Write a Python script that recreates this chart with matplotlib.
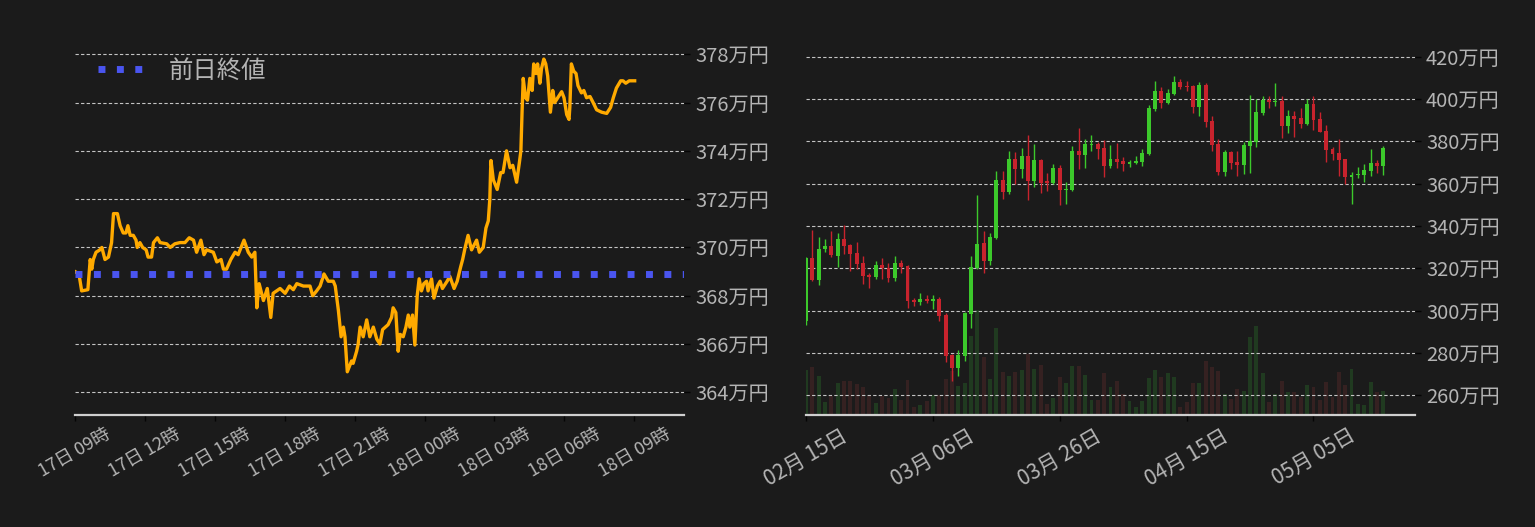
import matplotlib
matplotlib.use('Agg')
import matplotlib.pyplot as plt
import numpy as np
import pandas as pd

plt.rcParams['font.family'] = ['Noto Sans CJK JP', 'DejaVu Sans']

BG = '#1b1b1b'
TXT = '#b4b4b4'
GRID = '#c4c4c4'
SPINE = '#cfcfcf'
UP = '#3cc92b'
DOWN = '#c8232d'
UP_VOL = '#203a20'
DOWN_VOL = '#352121'
LINE = '#ffaa00'
PREV = '#4a55f0'

# ---------------- intraday (left) ----------------
intraday_start = '2024-05-17 09:00'
intraday_minutes = [0, 10, 17, 33, 39, 43, 47, 54, 64, 69, 77, 86, 90, 94, 99, 109, 116, 124, 131, 136,
                    142, 150, 157, 160, 167, 174, 183, 188, 197, 202, 212, 219, 236, 245, 257, 270, 283, 294, 305, 313,
                    324, 332, 339, 356, 365, 376, 382, 390, 401, 412, 420, 435, 446, 455, 463, 468, 474, 485, 495, 504,
                    510, 528, 541, 552, 562, 571, 588, 605, 612, 622, 631, 641, 652, 665, 670, 678, 685, 691, 695, 701,
                    712, 716, 725, 729, 734, 742, 751, 759, 768, 777, 785, 792, 806, 815, 819, 826, 832, 837, 845, 852,
                    858, 862, 869, 875, 881, 886, 892, 898, 905, 909, 918, 924, 933, 940, 946, 958, 965, 976, 984, 993,
                    998, 1004, 1012, 1021, 1034, 1041, 1051, 1058, 1064, 1068, 1070, 1071, 1077, 1087, 1096, 1102, 1111, 1120, 1127, 1137,
                    1144, 1148, 1151, 1154, 1160, 1165, 1171, 1177, 1181, 1187, 1191, 1197, 1201, 1207, 1212, 1217, 1224, 1230, 1235, 1247,
                    1253, 1259, 1266, 1272, 1274, 1278, 1284, 1290, 1295, 1304, 1310, 1317, 1326, 1334, 1343, 1356, 1369, 1379, 1386, 1394,
                    1405, 1411, 1418, 1427, 1441]
intraday_price = [369.0, 368.9, 368.2, 368.25, 369.5, 369.1, 369.5, 369.8, 369.9, 370.0, 369.5, 369.6, 369.9, 370.2, 371.4, 371.4, 370.9, 370.6, 370.6, 370.9,
                  370.5, 370.5, 370.3, 370.0, 370.2, 370.0, 369.9, 369.6, 369.6, 370.2, 370.4, 370.2, 370.15, 370.0, 370.15, 370.2, 370.2, 370.4, 370.3, 369.8,
                  370.3, 369.7, 369.9, 369.8, 369.4, 369.5, 369.1, 369.1, 369.5, 369.8, 369.7, 370.3, 369.8, 369.6, 369.8, 367.5, 368.5, 367.8, 368.3, 367.1,
                  368.1, 368.3, 368.1, 368.4, 368.25, 368.5, 368.4, 368.4, 368.0, 368.2, 368.4, 368.9, 368.6, 368.6, 368.4, 367.4, 366.3, 366.7, 366.3, 364.85,
                  365.3, 365.2, 365.7, 366.0, 366.7, 366.3, 367.0, 366.3, 366.7, 366.2, 366.0, 366.6, 366.8, 367.1, 367.5, 367.3, 365.7, 366.4, 366.3, 366.7,
                  367.2, 366.7, 367.2, 365.96, 368.0, 368.7, 368.2, 368.5, 368.6, 368.2, 368.7, 367.9, 368.4, 368.6, 368.3, 368.6, 368.8, 368.3, 368.6, 369.2,
                  369.5, 369.96, 370.5, 369.9, 370.3, 369.8, 370.0, 370.8, 371.1, 372.0, 373.2, 373.6, 372.8, 372.4, 373.1, 373.1, 374.0, 373.3, 373.4, 372.7,
                  373.5, 374.0, 375.6, 377.0, 376.2, 376.1, 377.0, 376.5, 377.6, 377.2, 377.6, 376.8, 377.4, 377.8, 377.6, 377.1, 375.6, 376.5, 376.0, 376.3,
                  376.45, 376.2, 375.5, 375.3, 375.8, 377.6, 377.3, 377.2, 376.7, 376.4, 376.5, 376.2, 376.25, 376.0, 375.7, 375.6, 375.55, 375.8, 376.2, 376.6,
                  376.9, 376.9, 376.8, 376.9, 376.9]
prev_close = 368.9
prev_close_label = '前日終値'
intraday_tick_labels = ['17日 09時', '17日 12時', '17日 15時', '17日 18時', '17日 21時',
                        '18日 00時', '18日 03時', '18日 06時', '18日 09時']
intraday_yticks = [364, 366, 368, 370, 372, 374, 376, 378]

# ---------------- daily (right) ----------------
daily_start = '2024-02-15'
daily_open = [295.3, 324.8, 314.5, 329.2, 330.6, 326.0, 333.9, 331.1, 327.4, 322.6,
              317.0, 315.8, 321.6, 320.1, 315.5, 322.6, 321.2, 304.9, 304.1, 305.5,
              304.6, 305.5, 298.0, 279.1, 272.9, 278.6, 298.4, 320.2, 332.1, 323.5,
              334.5, 361.8, 356.1, 371.8, 367.0, 373.2, 361.4, 371.3, 361.4, 360.4,
              367.5, 357.1, 357.1, 375.6, 373.7, 378.4, 378.8, 377.0, 368.4, 371.8,
              370.8, 369.4, 369.9, 370.3, 374.1, 395.4, 403.9, 398.2, 402.5, 408.2,
              406.3, 406.3, 396.3, 406.8, 389.7, 378.8, 365.6, 375.1, 370.3, 368.9,
              377.9, 379.8, 393.5, 399.6, 398.8, 399.2, 387.4, 392.1, 391.1, 388.3,
              397.8, 390.7, 385.0, 376.5, 374.6, 371.8, 363.2, 364.2, 364.2, 366.1,
              369.9, 368.4]
daily_high = [325.5, 338.2, 334.9, 333.9, 337.7, 336.8, 340.5, 331.5, 332.4, 325.9,
              317.7, 323.5, 324.9, 322.6, 325.9, 324.0, 321.5, 305.9, 308.5, 307.4,
              307.4, 306.6, 298.8, 279.3, 281.4, 299.2, 325.9, 354.8, 337.7, 336.8,
              366.1, 366.1, 375.6, 375.1, 377.0, 383.1, 378.8, 371.8, 365.1, 369.4,
              368.9, 360.9, 377.9, 386.4, 381.2, 383.1, 379.8, 380.8, 378.4, 379.4,
              372.7, 371.3, 373.2, 376.5, 397.3, 408.6, 405.8, 404.9, 411.0, 409.6,
              408.6, 406.5, 408.2, 407.7, 392.1, 381.2, 376.0, 375.3, 375.6, 379.8,
              402.0, 400.1, 401.5, 401.5, 407.7, 401.5, 394.9, 394.4, 395.9, 400.1,
              401.5, 394.0, 387.9, 377.4, 381.2, 371.9, 365.6, 368.0, 369.4, 376.5,
              371.3, 377.9]
daily_low = [293.4, 313.8, 312.2, 327.8, 325.4, 320.8, 327.0, 318.5, 319.6, 312.6,
             310.7, 314.9, 315.0, 313.6, 314.1, 317.8, 301.3, 302.4, 302.7, 303.5,
             300.7, 295.1, 275.7, 266.8, 269.1, 276.2, 291.8, 319.5, 317.8, 321.6,
             333.9, 352.8, 355.2, 359.9, 362.7, 352.4, 358.5, 355.7, 356.6, 360.0,
             350.0, 350.5, 356.8, 367.0, 367.5, 375.6, 371.8, 363.2, 367.5, 367.5,
             366.1, 368.1, 369.4, 368.4, 373.8, 394.4, 395.9, 397.8, 402.0, 404.9,
             403.9, 393.5, 392.1, 386.9, 375.6, 364.2, 363.7, 367.0, 363.7, 364.6,
             365.1, 377.5, 392.6, 395.9, 396.8, 381.7, 384.0, 382.2, 386.4, 388.0,
             385.5, 384.3, 370.3, 371.3, 363.7, 359.9, 350.5, 362.8, 360.9, 363.7,
             365.1, 364.2]
daily_close = [324.8, 314.5, 329.2, 330.6, 326.4, 333.9, 330.7, 326.8, 322.1, 316.4,
               316.1, 321.6, 320.1, 315.5, 322.6, 320.7, 304.4, 304.1, 305.5, 304.6,
               305.5, 297.5, 278.6, 272.9, 279.1, 298.9, 320.7, 331.6, 323.5, 334.9,
               361.8, 356.1, 371.8, 367.0, 373.2, 361.4, 371.3, 360.4, 360.4, 367.5,
               357.1, 357.6, 375.6, 373.7, 378.8, 378.8, 376.5, 368.4, 371.8, 370.3,
               369.4, 370.3, 370.8, 374.6, 395.9, 403.9, 398.2, 403.0, 408.2, 405.8,
               405.9, 396.3, 406.8, 389.3, 378.4, 365.6, 375.1, 369.9, 368.9, 378.4,
               380.3, 394.0, 399.6, 398.7, 399.2, 387.4, 392.1, 390.7, 388.3, 397.8,
               390.2, 384.5, 376.0, 374.1, 371.3, 363.2, 364.2, 364.6, 366.6, 369.9,
               368.4, 377.0]
daily_volume = [45, 48, 39, 13, 19, 32, 34, 34, 31, 28,
                19, 12, 19, 17, 26, 15, 35, 8, 10, 14,
                20, 20, 36, 44, 29, 32, 79, 105, 58, 36,
                87, 43, 39, 43, 45, 61, 46, 50, 11, 17,
                38, 32, 49, 49, 40, 15, 15, 42, 28, 34,
                21, 14, 8, 14, 37, 45, 38, 42, 38, 8,
                13, 32, 32, 54, 48, 44, 21, 16, 26, 24,
                78, 89, 42, 13, 21, 34, 23, 23, 18, 30,
                28, 15, 33, 18, 43, 30, 46, 11, 10, 33,
                23, 24]
daily_tick_labels = ['02月 15日', '03月 06日', '03月 26日', '04月 15日', '05月 05日']
daily_yticks = [260, 280, 300, 320, 340, 360, 380, 400, 420]


def style_axes(ax):
    ax.set_facecolor(BG)
    for s in ['left', 'right', 'top']:
        ax.spines[s].set_visible(False)
    ax.spines['bottom'].set_color(SPINE)
    ax.spines['bottom'].set_linewidth(1.6)
    ax.yaxis.tick_right()
    ax.tick_params(axis='both', colors='#050505', labelcolor=TXT, length=4, width=1)
    ax.tick_params(axis='y', labelsize=14.5, pad=4)
    ax.grid(axis='y', color=GRID, linestyle=(0, (3, 2)), linewidth=0.8)
    ax.grid(axis='x', visible=False)
    ax.set_axisbelow(True)


fig = plt.figure(figsize=(15.35, 5.27), dpi=100, facecolor=BG)

# ---- left ----
ax1 = fig.add_axes([0.0489, 0.2125, 0.3967, 0.7116])
style_axes(ax1)
t0 = pd.Timestamp(intraday_start)
times = t0 + pd.to_timedelta(intraday_minutes, unit='min')
ax1.plot(times, intraday_price, color=LINE, linewidth=2.4, zorder=3)
ax1.axhline(prev_close, color=PREV, linestyle=':', linewidth=5, zorder=4, label=prev_close_label)
ax1.set_xlim(t0, t0 + pd.Timedelta(minutes=1568))
ax1.set_ylim(363.06, 378.59)
ax1.set_yticks(intraday_yticks)
ax1.set_yticklabels([f'{v}万円' for v in intraday_yticks])
xt = [t0 + pd.Timedelta(hours=3 * k) for k in range(len(intraday_tick_labels))]
ax1.set_xticks(xt)
ax1.set_xticklabels(intraday_tick_labels, rotation=30, ha='center', fontsize=13)
ax1.tick_params(axis='x', pad=3)
leg = ax1.legend(loc='upper left', frameon=False, fontsize=17.6, labelcolor=TXT,
                 handlelength=1.9, handletextpad=0.98, borderaxespad=0.55,
                 bbox_to_anchor=(0, 1.014))

# ---- right ----
pos2 = [0.5251, 0.2125, 0.3967, 0.7116]
axv = fig.add_axes(pos2)
axv.set_facecolor(BG)
for s in axv.spines.values():
    s.set_visible(False)
axv.tick_params(axis='both', which='both', bottom=False, left=False, right=False, top=False,
                labelbottom=False, labelleft=False, labelright=False, labeltop=False)
ax2 = fig.add_axes(pos2, sharex=axv)
style_axes(ax2)
ax2.patch.set_visible(False)

dates = pd.date_range(daily_start, periods=len(daily_open), freq='D')
o = np.array(daily_open)
c = np.array(daily_close)
up = c >= o
cols = np.where(up, UP, DOWN)
vcols = np.where(up, UP_VOL, DOWN_VOL)
axv.bar(dates, daily_volume, width=0.62, color=vcols, linewidth=0)
axv.set_ylim(0, 375)
axv.set_yticks([])
ax2.vlines(dates, daily_low, daily_high, colors=cols, linewidth=1.0, zorder=3)
body_bottom = np.minimum(o, c)
body_h = np.maximum(np.abs(c - o), 0.45)
ax2.bar(dates, body_h, bottom=body_bottom, width=0.62, color=cols, linewidth=0, zorder=4)
ax2.set_xlim(dates[0], dates[0] + pd.Timedelta(days=96))
ax2.set_ylim(250.6, 428.0)
ax2.set_yticks(daily_yticks)
ax2.set_yticklabels([f'{v}万円' for v in daily_yticks])
xt2 = pd.date_range(daily_start, periods=len(daily_tick_labels), freq='20D')
ax2.set_xticks(xt2)
ax2.set_xticklabels(daily_tick_labels, rotation=30, ha='center', fontsize=15)
ax2.tick_params(axis='x', pad=3)
axv.tick_params(axis='x', bottom=False, labelbottom=False)

fig.savefig('out.png', dpi=100, facecolor=BG)
